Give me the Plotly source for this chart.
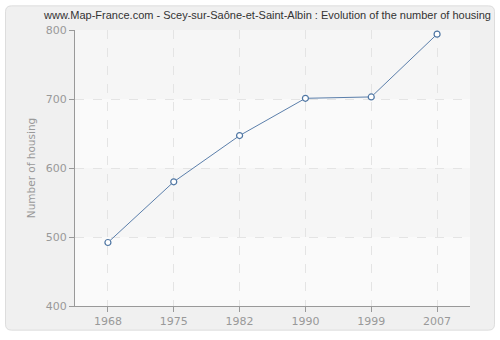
import plotly.graph_objects as go

years = ["1968", "1975", "1982", "1990", "1999", "2007"]
housing = [492, 580, 647, 701, 703, 794]
y_ticks = [400, 500, 600, 700, 800]

title = "www.Map-France.com - Scey-sur-Saône-et-Saint-Albin : Evolution of the number of housing"

fig = go.Figure()
fig.add_trace(go.Scatter(
    x=years, y=housing, mode="lines+markers",
    line=dict(color="#5b7fab", width=1),
    marker=dict(symbol="circle", size=6, color="white", line=dict(color="#4f76a3", width=1.2)),
    hoverinfo="x+y",
))

W, H = 500, 340
ml, mr, mt, mb = 75, 30, 30, 30
pw, ph = W - ml - mr, H - mt - mb
def px2paper_x(px): return (px - ml) / pw
def px2paper_y(py): return (H - mb - py) / ph

# rounded outer frame
x0, x1 = px2paper_x(5.5), px2paper_x(494.5)
y0, y1 = px2paper_y(334.5), px2paper_y(5.5)
rx, ry = 6 / pw, 6 / ph
path = (f"M {x0+rx},{y1} L {x1-rx},{y1} Q {x1},{y1} {x1},{y1-ry} "
        f"L {x1},{y0+ry} Q {x1},{y0} {x1-rx},{y0} L {x0+rx},{y0} "
        f"Q {x0},{y0} {x0},{y0+ry} L {x0},{y1-ry} Q {x0},{y1} {x0+rx},{y1} Z")
fig.add_shape(type="path", path=path, xref="paper", yref="paper",
              fillcolor="#f0f0f0", line=dict(color="#dddddd", width=1), layer="below")
# plot area background
fig.add_shape(type="rect", xref="paper", yref="paper", x0=0, x1=1, y0=0, y1=1,
              fillcolor="#f6f6f6", line=dict(width=0), layer="below")
# lighter bands
for lo, hi in [(400, 500), (600, 700)]:
    fig.add_shape(type="rect", xref="paper", yref="y", x0=0, x1=1, y0=lo, y1=hi,
                  fillcolor="#fafafa", line=dict(width=0), layer="below")

fig.update_layout(
    width=W, height=H,
    margin=dict(l=ml, r=mr, t=mt, b=mb),
    paper_bgcolor="white",
    plot_bgcolor="rgba(0,0,0,0)",
    showlegend=False,
    title=dict(text=title, x=0.535, xanchor="center", y=1 - 15 / H, yanchor="middle",
               font=dict(family="Liberation Sans", size=11, color="#333333")),
    font=dict(family="DejaVu Sans", size=11, color="#999999"),
)
fig.update_xaxes(
    type="category", range=[-0.5, 5.5],
    showline=True, linecolor="#999999", linewidth=1,
    ticks="outside", ticklen=5, tickcolor="#999999",
    showgrid=True, gridcolor="#e4e4e4", griddash="dash", gridwidth=1,
    tickfont=dict(size=11, color="#999999"), zeroline=False,
)
fig.update_yaxes(
    range=[400, 800], tickvals=y_ticks,
    showline=True, linecolor="#999999", linewidth=1,
    ticks="outside", ticklen=5, tickcolor="#999999",
    showgrid=True, gridcolor="#e4e4e4", griddash="dash", gridwidth=1,
    tickfont=dict(size=11, color="#999999"), zeroline=False,
    title=dict(text="Number of housing", font=dict(size=10.5, color="#999999"), standoff=8),
)
fig.write_html("out.html")
